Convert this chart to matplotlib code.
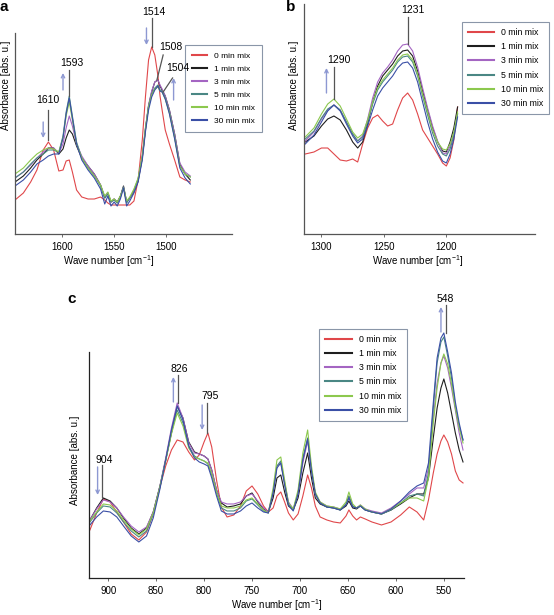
import matplotlib
matplotlib.use("Agg")
import matplotlib.pyplot as plt

plt.rcParams['font.family'] = ['Liberation Sans', 'DejaVu Sans']
plt.rcParams['mathtext.default'] = 'regular'

series_labels = ["0 min mix", "1 min mix", "3 min mix", "5 min mix", "10 min mix", "30 min mix"]
series_colors = ["#e0474a", "#1e1e1e", "#a465c2", "#4a8784", "#8cc84e", "#3a4fa6"]

# Panel a: 1650-1470 cm-1 (absorbance in arbitrary units)
a_wn = [1645, 1637, 1630, 1624, 1618, 1613, 1608, 1603, 1599, 1596, 1593, 1590, 1586, 1581,
        1575, 1569, 1563, 1559, 1556, 1553, 1550, 1547, 1544, 1541, 1538, 1535, 1531, 1527,
        1523, 1520, 1517, 1514, 1511, 1508, 1506, 1504, 1501, 1497, 1492, 1487, 1482, 1477]
a_0min = [34, 41, 52, 64, 84, 92, 84, 63, 64, 73, 74, 62, 44, 37, 35, 35, 37, 34, 31, 29, 29,
          29, 29, 29, 29, 29, 33, 54, 94, 137, 174, 187, 179, 158, 138, 124, 104, 90, 74, 57, 54, 52]
a_1min = [52, 58, 66, 74, 80, 86, 86, 80, 85, 96, 104, 100, 88, 76, 68, 60, 49, 36, 41, 32, 35,
          32, 38, 48, 32, 36, 42, 53, 76, 104, 128, 142, 152, 154, 148, 144, 138, 124, 100, 70, 60, 54]
a_3min = [56, 62, 69, 76, 82, 86, 86, 81, 90, 106, 118, 108, 90, 78, 68, 60, 49, 37, 41, 32, 35,
          31, 37, 47, 32, 36, 43, 54, 77, 105, 129, 143, 152, 154, 149, 145, 138, 124, 100, 71, 62, 58]
a_5min = [56, 62, 70, 76, 80, 84, 84, 82, 98, 122, 138, 118, 92, 76, 66, 58, 48, 36, 40, 32, 34,
          31, 37, 47, 31, 36, 44, 55, 78, 106, 128, 140, 146, 149, 144, 143, 136, 122, 97, 68, 60, 57]
a_10min = [60, 66, 74, 80, 84, 86, 85, 82, 96, 118, 132, 114, 90, 76, 66, 58, 49, 38, 42, 33, 35,
           32, 38, 46, 33, 37, 45, 56, 78, 105, 127, 139, 145, 147, 143, 142, 135, 121, 96, 68, 60, 57]
a_30min = [48, 54, 62, 70, 74, 78, 80, 80, 96, 120, 136, 116, 90, 74, 64, 56, 45, 30, 38, 28, 32,
           28, 35, 46, 28, 33, 41, 52, 74, 102, 124, 137, 144, 148, 143, 142, 135, 120, 95, 66, 56, 50]

# Panel b: 1315-1190 cm-1
b_wn = [1313, 1306, 1300, 1295, 1290, 1285, 1280, 1275, 1271, 1267, 1263, 1259, 1255, 1251, 1247,
        1243, 1239, 1235, 1231, 1227, 1223, 1219, 1215, 1211, 1207, 1203, 1200, 1197, 1194, 1191]
b_0min = [80, 82, 86, 86, 80, 74, 73, 75, 72, 90, 106, 116, 119, 113, 108,
          110, 124, 136, 141, 134, 120, 104, 96, 88, 80, 71, 68, 76, 94, 127]
b_1min = [92, 98, 108, 115, 118, 114, 104, 92, 86, 92, 110, 132, 148, 158, 164,
          170, 178, 183, 184, 178, 163, 143, 124, 106, 92, 83, 82, 92, 106, 127]
b_3min = [93, 102, 115, 124, 129, 124, 112, 100, 93, 98, 115, 136, 152, 161, 167,
          174, 183, 189, 190, 183, 167, 146, 126, 108, 93, 81, 80, 88, 100, 120]
b_5min = [95, 103, 116, 125, 129, 124, 112, 100, 93, 97, 112, 130, 144, 152, 158,
          164, 172, 177, 178, 172, 158, 138, 119, 101, 88, 80, 78, 85, 98, 120]
b_10min = [97, 106, 120, 130, 135, 128, 115, 102, 96, 100, 114, 132, 146, 154, 160,
           166, 174, 179, 180, 174, 160, 140, 122, 104, 92, 85, 84, 90, 102, 122]
b_30min = [90, 99, 112, 123, 129, 123, 110, 98, 91, 95, 108, 124, 138, 146, 152,
           158, 166, 171, 172, 166, 152, 132, 112, 95, 82, 73, 71, 80, 95, 117]

# Panel c: 920-530 cm-1
c_wn = [919, 912, 905, 898, 891, 884, 876, 868, 860, 853, 846, 840, 834, 828, 822, 816, 810, 805,
        800, 796, 792, 787, 782, 776, 769, 762, 756, 750, 744, 738, 733, 728, 724, 720, 716, 712,
        707, 702, 697, 692, 688, 684, 679, 672, 665, 658, 652, 649, 645, 641, 637, 632, 625, 615,
        605, 595, 586, 578, 571, 566, 561, 557, 553, 550, 546, 542, 538, 534, 530]
c_0min = [48, 65, 79, 76, 66, 56, 44, 38, 46, 64, 91, 112, 128, 138, 136, 126, 118, 123,
          136, 145, 131, 98, 71, 61, 63, 72, 87, 92, 84, 72, 66, 70, 82, 86, 76, 65,
          58, 64, 82, 103, 90, 72, 61, 58, 56, 55, 62, 68, 62, 58, 61, 59, 56, 53,
          56, 63, 71, 66, 58, 78, 105, 124, 137, 143, 136, 124, 107, 98, 95]
c_1min = [58, 70, 80, 77, 70, 60, 50, 44, 50, 66, 92, 118, 145, 172, 160, 136, 126, 124,
          122, 119, 108, 88, 75, 71, 72, 74, 82, 85, 76, 69, 66, 80, 100, 103, 86, 72,
          68, 80, 105, 125, 100, 80, 74, 71, 70, 68, 72, 77, 70, 69, 72, 68, 66, 64,
          68, 74, 80, 84, 84, 100, 140, 170, 190, 199, 185, 165, 145, 128, 116]
c_3min = [58, 69, 78, 76, 70, 61, 52, 46, 51, 66, 92, 120, 150, 175, 160, 135, 125, 124,
          122, 119, 108, 88, 76, 74, 74, 76, 82, 84, 77, 70, 66, 86, 112, 115, 95, 76,
          69, 84, 115, 137, 108, 84, 76, 72, 71, 69, 74, 82, 72, 70, 73, 69, 67, 65,
          70, 77, 84, 90, 90, 110, 160, 195, 215, 222, 210, 190, 168, 145, 128]
c_5min = [56, 65, 72, 71, 65, 56, 47, 41, 47, 64, 91, 118, 146, 168, 155, 132, 122, 119,
          117, 114, 103, 85, 70, 67, 67, 70, 77, 79, 73, 67, 65, 86, 112, 117, 95, 74,
          68, 85, 120, 140, 108, 84, 75, 71, 70, 68, 74, 82, 72, 70, 72, 68, 66, 64,
          68, 75, 82, 84, 82, 105, 170, 215, 236, 241, 222, 200, 172, 152, 138]
c_10min = [57, 66, 74, 73, 67, 58, 49, 43, 49, 65, 91, 117, 144, 165, 152, 130, 121, 119,
           117, 115, 104, 86, 72, 70, 70, 72, 78, 80, 74, 68, 65, 90, 118, 121, 98, 75,
           69, 88, 125, 148, 112, 86, 76, 72, 71, 69, 76, 86, 74, 70, 73, 69, 66, 64,
           69, 75, 80, 80, 77, 100, 155, 190, 215, 224, 214, 194, 170, 150, 135]
c_30min = [53, 61, 67, 66, 61, 52, 42, 36, 42, 60, 89, 118, 148, 172, 158, 132, 120, 116,
           114, 112, 100, 82, 67, 64, 64, 67, 72, 75, 70, 66, 65, 85, 110, 115, 93, 73,
           67, 84, 118, 139, 107, 84, 75, 71, 70, 68, 73, 80, 71, 70, 72, 68, 66, 64,
           69, 77, 86, 92, 95, 115, 175, 220, 240, 245, 226, 205, 176, 155, 138]

# peak labels: (text, text position, leader line start/end, arrow start/end or None)
a_peaks = [("1610", (1613.5, 134), ((1613, 124), (1613, 94)), ((1618, 112), (1618, 96))),
           ("1593", (1591, 171), ((1593, 164), (1593, 138)), ((1599, 144), (1599, 161))),
           ("1514", (1511.5, 222), ((1513.5, 216), (1513.5, 187)), ((1519, 206), (1519, 189))),
           ("1508", (1496, 187), ((1503, 179), (1509, 154)), None),
           ("1504", (1489, 166), ((1494, 156), (1503, 142)), ((1493, 134), (1493, 156)))]
b_peaks = [("1231", (1227, 224), ((1231, 217), (1231, 190)), None),
           ("1290", (1286, 174), ((1290, 167), (1290, 135)), ((1296, 141), (1296, 166)))]
c_peaks = [("904", (904, 118), ((906, 113), (906, 81)), ((911, 111), (911, 83))),
           ("826", (826, 209), ((827, 203), (827, 175)), ((832, 176), (832, 201))),
           ("795", (794, 182), ((797, 175), (797, 145)), ((802, 173), (802, 148))),
           ("548", (548, 279), ((548, 273), (548, 245)), ((553, 246), (553, 271)))]

fig = plt.figure(figsize=(5.54, 6.15), dpi=100)
ax_a = fig.add_axes([0.0271, 0.6195, 0.3917, 0.3724])
ax_b = fig.add_axes([0.5487, 0.6195, 0.417, 0.374])
ax_c = fig.add_axes([0.1606, 0.0602, 0.6769, 0.4683])

# axis, x, series, peaks, xlim, ytop, spine top, ticks, legend corner, ylabel pos, xlabel pos,
# legend font, handle length, label spacing, border pad
panels = [
    (ax_a, a_wn, [a_0min, a_1min, a_3min, a_5min, a_10min, a_30min], a_peaks,
     (1645, 1437), 229, 201, [1600, 1550, 1500], (0.334, 0.927), (-0.02, 0.65), (0.43, -0.083),
     6.0, 1.8, 0.62, 0.85),
    (ax_b, b_wn, [b_0min, b_1min, b_3min, b_5min, b_10min, b_30min], b_peaks,
     (1314, 1129), 230, 230, [1300, 1250, 1200], (0.834, 0.964), (-0.022, 0.648), (0.49, -0.083),
     6.3, 3.0, 0.6, 0.65),
    (ax_c, c_wn, [c_0min, c_1min, c_3min, c_5min, c_10min, c_30min], c_peaks,
     (920, 529), 288, 226, [900, 850, 800, 750, 700, 650, 600, 550], (0.576, 0.465), (-0.024, 0.41),
     (0.5, -0.068), 6.3, 3.1, 0.6, 0.65),
]

for (ax, wn, ys, peaks, xlim, ytop, spine_top, ticks, leg_pos, ylab_pos, xlab_pos,
     leg_fs, leg_hl, leg_ls, leg_bp) in panels:
    for vals, lab, col in zip(ys, series_labels, series_colors):
        ax.plot(wn, vals, color=col, lw=0.8, label=lab)
    ax.set_xlim(*xlim)
    ax.set_ylim(0, ytop)
    ax.set_xticks(ticks)
    ax.set_yticks([])
    ax.tick_params(axis='x', labelsize=7, length=2, width=0.6, pad=3.5, color="#555555")
    for side in ("top", "right"):
        ax.spines[side].set_visible(False)
    ax.spines["left"].set_bounds(0, spine_top)
    for side in ("left", "bottom"):
        ax.spines[side].set_color("#555555" if ax is not ax_c else "#222222")
        ax.spines[side].set_linewidth(0.9)
    ax.set_ylabel("Absorbance [abs. u.]", fontsize=7)
    ax.yaxis.set_label_coords(*ylab_pos)
    ax.set_xlabel("Wave number [cm$^{-1}$]", fontsize=7)
    ax.xaxis.set_label_coords(*xlab_pos)

    for text, txy, line, arrow in peaks:
        ax.text(txy[0], txy[1], text, fontsize=7.5, ha="center", va="center", clip_on=False,
                zorder=6)
        ax.plot([line[0][0], line[1][0]], [line[0][1], line[1][1]], color="#555555", lw=0.9,
                clip_on=False)
        if arrow is not None:
            ax.annotate("", xy=arrow[1], xytext=arrow[0], annotation_clip=False,
                        arrowprops=dict(arrowstyle="->", color="#8d98d2", lw=1.0,
                                        mutation_scale=6, shrinkA=0, shrinkB=0))

    leg = ax.legend(loc="upper left", bbox_to_anchor=leg_pos, bbox_transform=fig.transFigure,
                    fontsize=leg_fs, handlelength=leg_hl, labelspacing=leg_ls, borderpad=leg_bp,
                    handletextpad=0.8, fancybox=False, framealpha=1, borderaxespad=0)
    leg.get_frame().set_edgecolor("#8a96a8")
    leg.get_frame().set_linewidth(0.8)
    for line in leg.get_lines():
        line.set_linewidth(1.5)

fig.text(0.0, 0.988, "a", fontsize=11, fontweight="bold", va="center", ha="left")
fig.text(0.516, 0.988, "b", fontsize=11, fontweight="bold", va="center", ha="left")
fig.text(0.122, 0.514, "c", fontsize=11, fontweight="bold", va="center", ha="left")

fig.savefig("out.png", dpi=100)
